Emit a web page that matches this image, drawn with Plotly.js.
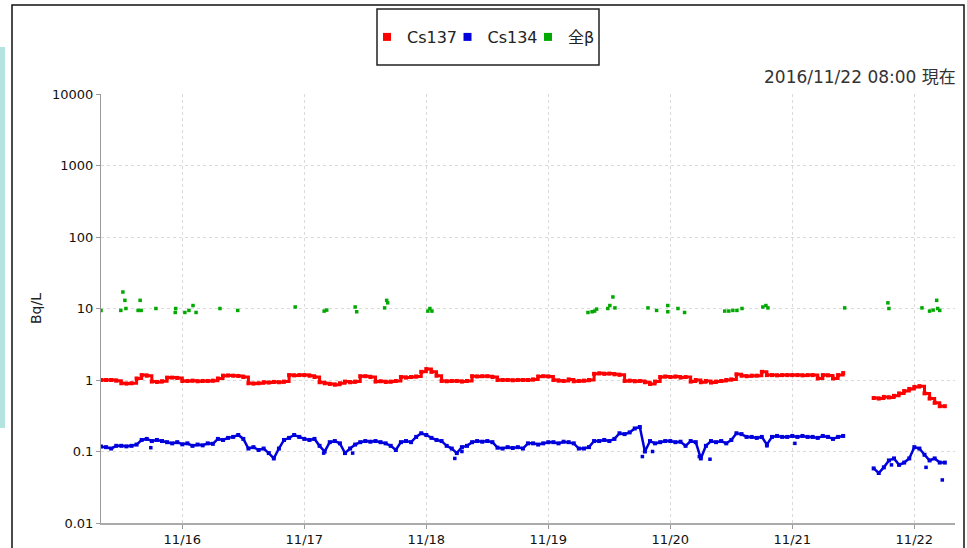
<!DOCTYPE html>
<html>
<head>
<meta charset="utf-8">
<script src="https://cdn.plot.ly/plotly-3.0.1.min.js"></script>
<style>html,body{margin:0;padding:0;background:#fff;}#chart{width:967px;height:548px;}</style>
</head>
<body>
<div id="chart"></div>
<script>
// Hourly readings starting 2016-11-15 08:00 (index = hours after start)
const startTime = '2016-11-15T08:00:00Z';
const seriesNames = ['Cs137', 'Cs134', '全β'];

const cs137 = [
  1.0,1.0,1.0,0.98,0.9,0.89,0.9,1.05,1.17,1.15,0.95,0.94,0.96,1.08,1.08,1.07,0.97,0.97,0.98,0.96,0.97,0.97,0.98,1.05,
  1.15,1.16,1.15,1.14,1.1,0.9,0.89,0.9,0.93,0.92,0.94,0.93,0.95,1.17,1.16,1.17,1.17,1.15,1.1,0.93,0.9,0.88,0.86,0.9,
  0.95,0.93,0.95,1.13,1.13,1.1,0.95,0.96,0.94,0.95,0.97,1.1,1.08,1.1,1.12,1.3,1.42,1.3,1.15,0.97,0.96,0.97,0.97,0.95,
  0.97,1.13,1.12,1.13,1.13,1.1,1.0,1.0,1.0,0.99,1.0,1.0,1.0,1.02,1.12,1.13,1.12,1.0,0.98,0.97,1.02,0.96,0.97,0.98,
  1.0,1.22,1.24,1.22,1.23,1.2,1.18,0.97,0.98,0.96,0.97,0.93,0.88,0.95,1.1,1.12,1.1,1.12,1.08,1.1,0.95,1.0,0.93,0.97,
  0.92,0.95,0.97,1.0,1.02,1.2,1.15,1.13,1.15,1.15,1.3,1.17,1.17,1.16,1.17,1.17,1.17,1.17,1.16,1.17,1.17,1.05,1.17,1.16,
  1.05,1.17,1.25,
  null,null,null,null,null,
  0.56,0.55,0.58,0.57,0.6,0.65,0.7,0.75,0.8,0.82,0.65,0.55,0.48,0.43,0.43
];

const cs134 = [
  0.117,0.115,0.11,0.12,0.12,0.118,0.12,0.125,0.145,0.15,0.14,0.145,0.14,0.135,0.13,0.135,0.126,0.13,0.12,0.125,0.122,0.13,0.128,0.15,
  0.145,0.155,0.16,0.17,0.15,0.11,0.115,0.105,0.11,0.095,0.08,0.11,0.145,0.155,0.17,0.16,0.15,0.145,0.15,0.12,0.1,0.135,0.14,0.13,
  0.095,0.11,0.125,0.135,0.14,0.137,0.14,0.135,0.13,0.12,0.105,0.135,0.14,0.135,0.16,0.18,0.17,0.155,0.145,0.14,0.12,0.11,0.095,0.115,
  0.12,0.135,0.14,0.137,0.14,0.135,0.113,0.11,0.115,0.112,0.115,0.11,0.13,0.13,0.125,0.13,0.135,0.135,0.13,0.137,0.135,0.13,0.11,0.11,
  0.115,0.14,0.14,0.145,0.14,0.15,0.18,0.175,0.185,0.21,0.22,0.1,0.14,0.13,0.135,0.14,0.14,0.135,0.137,0.12,0.14,0.135,0.08,0.12,
  0.14,0.135,0.14,0.13,0.145,0.18,0.175,0.16,0.16,0.155,0.16,0.125,0.16,0.165,0.16,0.16,0.165,0.16,0.165,0.16,0.16,0.155,0.165,0.16,
  0.15,0.16,0.165,
  null,null,null,null,null,
  0.058,0.05,0.06,0.075,0.08,0.065,0.07,0.08,0.115,0.11,0.09,0.075,0.08,0.07,0.07
];

// scattered Cs134 readings off the main run (hours after start, value)
const cs134ExtraHours = [9.8, 43.8, 49.5, 69.6, 71.0, 106.5, 108.5, 117.7, 119.8, 131.0, 136.5, 155.5, 162.3, 165.5];
const cs134ExtraVals  = [0.113, 0.095, 0.095, 0.08, 0.1, 0.085, 0.1, 0.085, 0.078, 0.12, 0.13, 0.065, 0.06, 0.04];

// 全β readings (hours after start, value)
const betaHours = [0,3.9,4.3,4.7,4.9,7.3,7.7,7.9,10.8,14.6,14.7,16.5,17.3,18.1,18.7,23.4,26.9,38.2,43.9,44.4,50,50.3,55.8,56.2,56.4,
  64.3,64.7,65.1,95.8,96.6,97.1,97.5,99.7,100.1,100.7,101.1,107.6,109.3,111.5,111.5,113.5,114.8,122.7,123.5,124.3,125.1,126.1,
  130.2,130.8,131.2,146.3,154.8,155,161.5,163,163.7,164.4,164.6,165];
const betaVals = [9.4,9.4,17,13,10,9.4,13,9.4,10,8.8,10,8.8,9.4,11,8.8,10,9.4,10.5,9.2,9.5,10.5,9,10.2,13,12,
  9.2,10,9.2,8.8,9.0,9.2,9.8,10,11,14.5,10.2,10.2,9.4,11,9,10,8.8,9.2,9.2,9.4,9.4,10,
  10.5,11,10.2,10.2,12,10,10.2,9.2,9.5,13,10,9.4];

const yTickVals = [0.01, 0.1, 1, 10, 100, 1000, 10000];
const yTickText = ['0.01', '0.1', '1', '10', '100', '1000', '10000'];

const colors = {red: '#ff0000', blue: '#0000dd', green: '#00a800'};

const startMs = Date.parse(startTime);
function hourToTime(h) {
  return new Date(startMs + h * 3600000).toISOString().slice(0, 19).replace('T', ' ');
}
const hourly = cs137.map((_, i) => hourToTime(i));

const traces = [
  {x: hourly, y: cs137, mode: 'lines+markers', connectgaps: false, showlegend: false,
   line: {color: colors.red, width: 3, shape: 'hv'}, marker: {color: colors.red, symbol: 'square', size: 4}},
  {x: hourly, y: cs134, mode: 'lines+markers', connectgaps: false, showlegend: false,
   line: {color: colors.blue, width: 2.5}, marker: {color: colors.blue, symbol: 'square', size: 4}},
  {x: cs134ExtraHours.map(hourToTime), y: cs134ExtraVals, mode: 'markers', showlegend: false,
   marker: {color: colors.blue, symbol: 'square', size: 3.5}},
  {x: betaHours.map(hourToTime), y: betaVals, mode: 'markers', showlegend: false,
   marker: {color: colors.green, symbol: 'square', size: 3.5}},
  // legend entries
  {x: [null], y: [null], mode: 'markers', name: seriesNames[0], marker: {color: colors.red, symbol: 'square', size: 8}},
  {x: [null], y: [null], mode: 'markers', name: seriesNames[1], marker: {color: colors.blue, symbol: 'square', size: 8}},
  {x: [null], y: [null], mode: 'markers', name: seriesNames[2], marker: {color: colors.green, symbol: 'square', size: 8}}
];

const W = 854, H = 429, L = 101, T = 94;
const px = v => (v - L) / W;
const py = v => (T + H - v) / H;

const layout = {
  width: 967, height: 548,
  margin: {l: 101, r: 12, t: 94, b: 25},
  paper_bgcolor: '#ffffff', plot_bgcolor: '#ffffff',
  font: {family: 'DejaVu Sans, Noto Sans CJK JP, sans-serif', color: '#222'},
  showlegend: true,
  legend: {orientation: 'h', x: px(367), xanchor: 'left', y: py(37), yanchor: 'middle',
           font: {family: 'DejaVu Sans, Noto Sans CJK JP, sans-serif', size: 16, color: '#222'},
           bgcolor: 'rgba(0,0,0,0)', borderwidth: 0, entrywidth: 35.5, entrywidthmode: 'pixels', itemwidth: 30},
  xaxis: {type: 'date', range: ['2016-11-15 08:00:00', '2016-11-22 08:00:00'], autorange: false,
          tick0: '2016-11-16', dtick: 86400000, tickformat: '%m/%d',
          showgrid: true, gridcolor: '#dadada', griddash: '3px,3px', gridwidth: 1,
          showline: true, linecolor: '#aaaaaa', linewidth: 1.5, zeroline: false,
          ticks: 'outside', ticklen: 4, tickcolor: '#999',
          tickfont: {family: 'DejaVu Sans', size: 13, color: '#111'}},
  yaxis: {type: 'log', range: [-2, 4], autorange: false,
          tickvals: yTickVals, ticktext: yTickText,
          showgrid: true, gridcolor: '#dadada', griddash: '3px,3px', gridwidth: 1,
          showline: true, linecolor: '#999999', linewidth: 1, zeroline: false,
          ticks: 'outside', ticklen: 4, tickcolor: '#999',
          tickfont: {family: 'DejaVu Sans', size: 13, color: '#111'},
          title: {text: 'Bq/L', standoff: 7, font: {family: 'DejaVu Sans', size: 14, color: '#222'}}},
  annotations: [
    {text: '2016/11/22 08:00 現在', xref: 'paper', yref: 'paper', x: px(958), y: py(77),
     xanchor: 'right', yanchor: 'middle', showarrow: false,
     font: {family: 'DejaVu Sans, Noto Sans CJK JP, sans-serif', size: 17, color: '#333'}}
  ],
  shapes: [
    {type: 'rect', xref: 'paper', yref: 'paper', x0: px(12), x1: px(964), y0: py(560), y1: py(5),
     line: {color: '#111', width: 1.5}, fillcolor: 'rgba(0,0,0,0)', layer: 'above'},
    {type: 'rect', xref: 'paper', yref: 'paper', x0: px(377), x1: px(599), y0: py(65), y1: py(9),
     line: {color: '#222', width: 1.5}, fillcolor: 'rgba(0,0,0,0)'},
    {type: 'rect', xref: 'paper', yref: 'paper', x0: px(0), x1: px(5), y0: py(428), y1: py(47),
     line: {width: 0}, fillcolor: '#b3e4df'}
  ]
};

Plotly.newPlot('chart', traces, layout, {displayModeBar: false, staticPlot: true});
</script>
</body>
</html>
